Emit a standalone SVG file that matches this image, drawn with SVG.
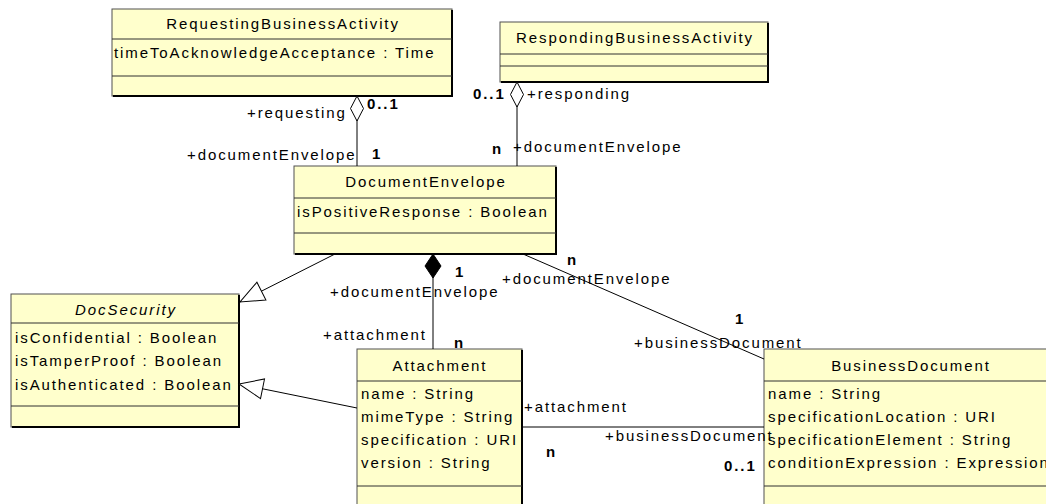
<svg xmlns="http://www.w3.org/2000/svg" width="1046" height="504" viewBox="0 0 1046 504">
<defs>
<style>
.box{fill:#FFFFCC;stroke:#505050;stroke-width:1}
.sh{fill:none;stroke:#000;stroke-width:2}
.dv{stroke:#303030;stroke-width:1}
.t{font-family:"Liberation Sans",Arial,Helvetica,sans-serif;font-size:15px;letter-spacing:1.9px;fill:#000}
.c{text-anchor:middle}
.i{font-style:italic}
.b{font-weight:bold}
.ln{fill:none;stroke:#000;stroke-width:1}
marker{overflow:visible}
</style>
<marker id="agg" markerUnits="userSpaceOnUse" markerWidth="26" markerHeight="14" refX="0" refY="6.5" orient="auto">
<path d="M0,6.5 L12.5,0 L25,6.5 L12.5,13 z" fill="#fff" stroke="#000" stroke-width="1"/>
</marker>
<marker id="comp" markerUnits="userSpaceOnUse" markerWidth="25" markerHeight="17" refX="0" refY="8" orient="auto">
<path d="M0,8 L12,0 L24,8 L12,16 z" fill="#000" stroke="#000" stroke-width="1"/>
</marker>
<marker id="gen" markerUnits="userSpaceOnUse" markerWidth="25" markerHeight="21" refX="24" refY="10" orient="auto">
<path d="M0,0 L24,10 L0,20 z" fill="#fff" stroke="#000" stroke-width="1"/>
</marker>
</defs>
<rect width="1046" height="504" fill="#fff"/>

<g id="RequestingBusinessActivity">
<rect class="box" x="112" y="9" width="340" height="87"/>
<path class="sh" d="M452,10 V96 H113"/>
<line class="dv" x1="112" y1="39" x2="452" y2="39"/>
<line class="dv" x1="112" y1="76" x2="452" y2="76"/>
<text class="t c" x="283" y="29">RequestingBusinessActivity</text>
<text class="t" x="114" y="58">timeToAcknowledgeAcceptance : Time</text>
</g>

<g id="RespondingBusinessActivity">
<rect class="box" x="500" y="22" width="268" height="60"/>
<path class="sh" d="M768,23 V82 H501"/>
<line class="dv" x1="500" y1="54" x2="768" y2="54"/>
<line class="dv" x1="500" y1="66" x2="768" y2="66"/>
<text class="t c" x="635" y="43">RespondingBusinessActivity</text>
</g>

<g id="DocumentEnvelope">
<rect class="box" x="294" y="166" width="262" height="88"/>
<path class="sh" d="M556,167 V254 H295"/>
<line class="dv" x1="294" y1="198" x2="556" y2="198"/>
<line class="dv" x1="294" y1="233" x2="556" y2="233"/>
<text class="t c" x="426" y="187">DocumentEnvelope</text>
<text class="t" x="297" y="217">isPositiveResponse : Boolean</text>
</g>

<g id="DocSecurity">
<rect class="box" x="11" y="294" width="228" height="133"/>
<path class="sh" d="M239,295 V427 H12"/>
<line class="dv" x1="11" y1="323" x2="239" y2="323"/>
<line class="dv" x1="11" y1="406" x2="239" y2="406"/>
<text class="t c i" x="126" y="315">DocSecurity</text>
<text class="t" x="15" y="343">isConfidential : Boolean</text>
<text class="t" x="15" y="366">isTamperProof : Boolean</text>
<text class="t" x="15" y="390">isAuthenticated : Boolean</text>
</g>

<g id="Attachment">
<rect class="box" x="357" y="349" width="165" height="170"/>
<path class="sh" d="M522,350 V519"/>
<line class="dv" x1="357" y1="381" x2="522" y2="381"/>
<line class="dv" x1="357" y1="486" x2="522" y2="486"/>
<text class="t c" x="440" y="371">Attachment</text>
<text class="t" x="361" y="399">name : String</text>
<text class="t" x="361" y="422">mimeType : String</text>
<text class="t" x="361" y="445">specification : URI</text>
<text class="t" x="361" y="468">version : String</text>
</g>

<g id="BusinessDocument">
<rect class="box" x="764" y="349" width="293" height="170"/>
<line class="dv" x1="764" y1="381" x2="1057" y2="381"/>
<line class="dv" x1="764" y1="486" x2="1057" y2="486"/>
<text class="t c" x="911" y="371">BusinessDocument</text>
<text class="t" x="768" y="399">name : String</text>
<text class="t" x="768" y="422">specificationLocation : URI</text>
<text class="t" x="768" y="445">specificationElement : String</text>
<text class="t" x="768" y="468">conditionExpression : Expression</text>
</g>

<g id="connectors">
<path class="ln" d="M357,96 V166" marker-start="url(#agg)"/>
<text class="t" x="247" y="118">+requesting</text>
<text class="t b" x="367" y="109">0..1</text>
<text class="t" x="187" y="160">+documentEnvelope</text>
<text class="t b" x="372" y="159">1</text>

<path class="ln" d="M517,82 V166" marker-start="url(#agg)"/>
<text class="t b" x="473" y="99">0..1</text>
<text class="t" x="527" y="99">+responding</text>
<text class="t b" x="492" y="154">n</text>
<text class="t" x="513" y="152">+documentEnvelope</text>

<path class="ln" d="M433,254 V349" marker-start="url(#comp)"/>
<text class="t b" x="455" y="277">1</text>
<text class="t" x="330" y="297">+documentEnvelope</text>
<text class="t" x="323" y="340">+attachment</text>
<text class="t b" x="454" y="348">n</text>

<path class="ln" d="M523,254 L764,359"/>
<text class="t b" x="567" y="265">n</text>
<text class="t" x="502" y="284">+documentEnvelope</text>
<text class="t b" x="735" y="324">1</text>
<text class="t" x="634" y="348">+businessDocument</text>

<path class="ln" d="M522,427 H764"/>
<text class="t" x="524" y="412">+attachment</text>
<text class="t b" x="546" y="457">n</text>
<text class="t" x="605" y="441">+businessDocument</text>
<text class="t b" x="724" y="471">0..1</text>

<path class="ln" d="M335,254 L240,302" marker-end="url(#gen)"/>
<path class="ln" d="M357,408 L239,384" marker-end="url(#gen)"/>
</g>
</svg>
